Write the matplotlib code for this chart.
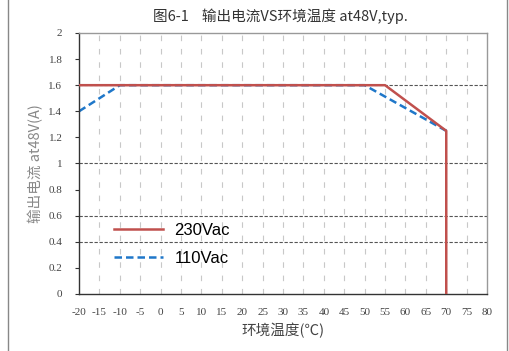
import matplotlib.pyplot as plt
import numpy as np
from matplotlib.lines import Line2D

plt.rcParams['font.family'] = ['Noto Sans CJK SC', 'DejaVu Sans']

# data
t_230 = [-20, 55, 70, 70]
i_230 = [1.6, 1.6, 1.25, 0]
t_110 = [-20, -10, 50, 70]
i_110 = [1.4, 1.6, 1.6, 1.25]
x_ticks = list(range(-20, 81, 5))
y_ticks = [0, 0.2, 0.4, 0.6, 0.8, 1, 1.2, 1.4, 1.6, 1.8, 2]
y_labels = ['0', '0.2', '0.4', '0.6', '0.8', '1', '1.2', '1.4', '1.6', '1.8', '2']
h_grid = [0.4, 0.6, 1.0, 1.6]

fig = plt.figure(figsize=(5.1, 3.51), dpi=100)
ax = fig.add_axes([0.155, 0.1624, 0.8, 0.7436])

# grid
for xv in x_ticks[1:-1]:
    ax.axvline(xv, color='#c8c8c8', lw=0.8, ls=(0, (5, 7)), zorder=0)
for yv in h_grid:
    ax.axhline(yv, color='#555555', lw=0.8, ls=(0, (3, 1.5)), zorder=0)

ax.plot(t_230, i_230, color='#c0504d', lw=1.8, zorder=3)
ax.plot(t_110, i_110, color='#1f77c9', lw=1.8, ls=(0, (3, 1.6)), zorder=2)

ax.set_xlim(-20, 80)
ax.set_ylim(0, 2)
ax.set_xticks(x_ticks)
ax.set_xticklabels([str(v) for v in x_ticks], fontsize=8, color='#444444',
                   family=['Liberation Serif'])
ax.set_yticks(y_ticks)
ax.set_yticklabels(y_labels, fontsize=8, color='#444444', family=['Liberation Serif'])
ax.tick_params(axis='x', length=0, pad=10)
ax.tick_params(axis='y', length=3, width=0.8, color='#333333', pad=9)

for s in ['top', 'right']:
    ax.spines[s].set_color('#999999')
for s in ['left', 'bottom']:
    ax.spines[s].set_color('#333333')
for s in ax.spines.values():
    s.set_linewidth(1)

ax.set_xlabel('环境温度(℃)', fontsize=10.5, color='#444444', labelpad=4)
ax.set_ylabel('输出电流 at48V(A)', fontsize=10.5, color='#888888', labelpad=4)
fig.text(0.55, 0.955, '图6-1    输出电流VS环境温度 at48V,typ.', ha='center', va='center',
         fontsize=10.5, color='#333333', fontweight='medium')

handles = [Line2D([], [], color='#c0504d', lw=1.8),
           Line2D([], [], color='#1f77c9', lw=1.8, ls=(0, (3, 1.6)))]
ax.legend(handles, ['230Vac', '110Vac'], loc='lower left', bbox_to_anchor=(0.05, 0.05),
          frameon=False, handlelength=2.9, handletextpad=0.7, labelspacing=0.8,
          prop={'family': ['Liberation Sans'], 'size': 12})

# outer frame lines
fig.add_artist(Line2D([8 / 510, 8 / 510], [0, 1], color='#888888', lw=1))
fig.add_artist(Line2D([507 / 510, 507 / 510], [0, 1], color='#888888', lw=1))

plt.savefig('out.png', dpi=100)
